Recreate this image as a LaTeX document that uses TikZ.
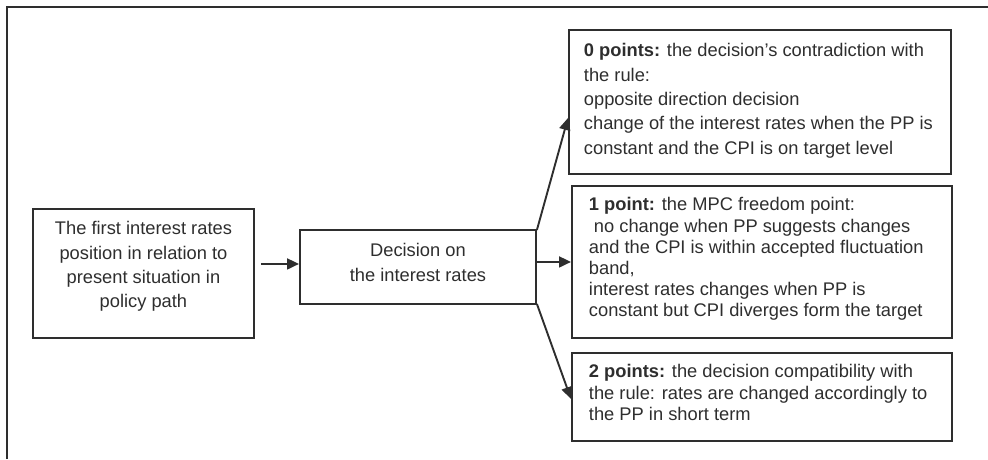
\documentclass[tikz,border=0pt]{standalone}
\usepackage{fontspec}
\setmainfont{Liberation Sans}
\usetikzlibrary{arrows.meta,calc}
\definecolor{ink}{HTML}{2E2E2E}
\newcommand{\bxtext}[4]{\parbox[c][#2][t]{#1}{\vspace*{#3}#4}}
\tikzset{
  box/.style={draw=ink, line width=1.9pt, inner sep=0pt, anchor=north west, text=ink},
  conn/.style={draw=ink, line width=1.9pt, -{Triangle[length=12pt,width=11pt]}},
}
\begin{document}
\begin{tikzpicture}[x=1pt,y=-1pt]
\useasboundingbox (0,0) rectangle (988,459);
\draw[ink, line width=2pt] (6.5,459) -- (6.5,6.5) -- (988,6.5);
\fontsize{18.3pt}{24.3pt}\selectfont
\node[box] (A) at (32,208) {\bxtext{221pt}{129pt}{12pt}{\centering\rule{0pt}{14pt}The first interest rates\\ position in relation to\\ present situation in\\ policy path\par}};
\node[box] (B) at (299,229) {\bxtext{236pt}{74pt}{13pt}{\centering\rule{0pt}{14pt}Decision on\\ the interest rates\par}};
\node[box] (C) at (568,29) {\bxtext{382pt}{144pt}{13pt}{\raggedright\leftskip=15pt\rule{0pt}{14pt}\textbf{0 points:} the decision’s contradiction with\\ the rule:\\ opposite direction decision\\ change of the interest rates when the PP is\\ constant and the CPI is on target level\par}};
\node[box] (D) at (571,185) {\bxtext{380pt}{152pt}{11pt}{\fontsize{18.3pt}{21.2pt}\selectfont\raggedright\leftskip=17pt\rule{0pt}{14pt}\textbf{1 point:} the MPC freedom point:\\ \hspace*{5pt}no change when PP suggests changes\\ and the CPI is within accepted fluctuation\\ band,\\ interest rates changes when PP is\\ constant but CPI diverges form the target\par}};
\node[box] (E) at (571,352) {\bxtext{380pt}{88pt}{11pt}{\fontsize{18.3pt}{21.2pt}\selectfont\raggedright\leftskip=17pt\rule{0pt}{14pt}\textbf{2 points:} the decision compatibility with\\ the rule: rates are changed accordingly to\\ the PP in short term\par}};
\draw[conn] ([xshift=6pt,yshift=3pt]A.east |- B.west) -- ([yshift=3pt]B.west);
\draw[conn] ([yshift=-1pt]B.north east) -- ($(C.north west)!0.61!(C.south west)$);
\draw[conn] (D.west -| B.east) -- (D.west);
\draw[conn] ([yshift=1pt]B.south east) -- ([yshift=-2pt]E.west);
\end{tikzpicture}
\end{document}
